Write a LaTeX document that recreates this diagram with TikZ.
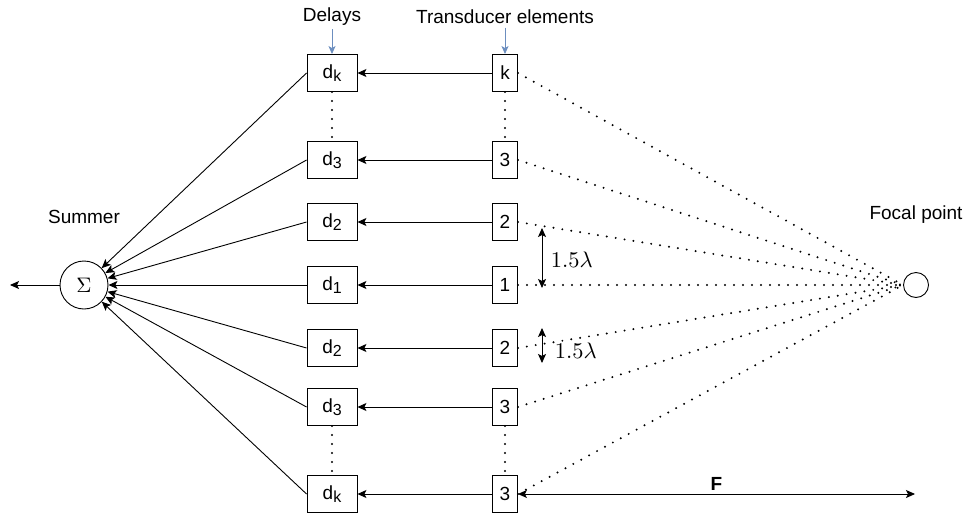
\documentclass[tikz,border=0pt]{standalone}
\usepackage{graphicx}
\usepackage{fontspec}
\setmainfont{Liberation Sans}
\usetikzlibrary{arrows.meta, positioning}

\definecolor{pointerblue}{HTML}{6C8EBF}

% lowered index for the delay names
\newcommand{\lowidx}[1]{\raisebox{-0.3ex}{\fontsize{16}{16}\selectfont #1}}
% math set at 10pt and scaled up
\newcommand{\bigmath}[2]{\scalebox{#1}{\fontsize{10}{12}\selectfont$#2$}}

\begin{document}
\begin{tikzpicture}[
    x=1pt, y=-1pt,
    every node/.style={font=\fontsize{19}{22}\selectfont},
    % Define block styles
    delay/.style={rectangle, draw, line width=0.9pt, minimum width=50pt, minimum height=37pt, inner sep=0pt},
    element/.style={rectangle, draw, line width=0.9pt, minimum width=25pt, minimum height=37pt, inner sep=0pt},
    summer/.style={circle, draw, line width=0.9pt, minimum size=48pt, inner sep=0pt},
    focus/.style={circle, draw, line width=0.9pt, minimum size=25pt, inner sep=0pt},
    % Define arrow styles
    arrow/.style={-{Stealth[length=9pt, width=8pt, inset=2pt]}, line width=0.9pt},
    twoway/.style={{Stealth[length=9pt, width=8pt, inset=2pt]}-{Stealth[length=9pt, width=8pt, inset=2pt]}, line width=0.9pt},
    pointer/.style={-{Stealth[length=8pt, width=7pt, inset=2pt]}, line width=0.9pt, pointerblue},
    beam/.style={line width=2.2pt, line cap=round, dash pattern=on 0pt off 9pt}
]

    \useasboundingbox (0,0) rectangle (966,514);

    % Delay blocks
    \node[delay] (d1) at (332,285) {d\lowidx{1}};
    \node[delay, above of=d1, node distance=63pt] (d2a) {d\lowidx{2}};
    \node[delay, above of=d2a, node distance=62pt] (d3a) {d\lowidx{3}};
    \node[delay, above of=d3a, node distance=87pt] (dka) {d\lowidx{k}};
    \node[delay, below of=d1, node distance=63pt] (d2b) {d\lowidx{2}};
    \node[delay, below of=d2b, node distance=59pt] (d3b) {d\lowidx{3}};
    \node[delay, below of=d3b, node distance=87pt] (dkb) {d\lowidx{k}};

    % Transducer elements
    \node[element, right of=dka, node distance=173pt] (tka) {k};
    \node[element, right of=d3a, node distance=173pt] (t3a) {3};
    \node[element, right of=d2a, node distance=173pt] (t2a) {2};
    \node[element, right of=d1, node distance=173pt] (t1) {1};
    \node[element, right of=d2b, node distance=173pt] (t2b) {2};
    \node[element, right of=d3b, node distance=173pt] (t3b) {3};
    \node[element, right of=dkb, node distance=173pt] (t3c) {3};

    % Summer and focal point
    \node[summer, left of=d1, node distance=248pt] (sum) {\bigmath{2.1}{\Sigma}};
    \node[focus, right of=t1, node distance=411pt] (focal) {};
    \coordinate[left of=sum, node distance=74pt] (out);
    \coordinate[right of=t3c, node distance=410pt] (fend);

    % Labels
    \node[above of=dka, node distance=56pt] (lbldelays) {Delays};
    \node[above of=tka, node distance=56pt] (lblelements) {Transducer elements};
    \node[above of=sum, node distance=68pt] (lblsummer) {Summer};
    \node[above of=focal, node distance=70pt] (lblfocal) {Focal point};

    \draw[pointer] (lbldelays) -- (dka);
    \draw[pointer] (lblelements) -- (tka);

    % Elements to delays
    \draw[arrow] (tka) -- (dka);
    \draw[arrow] (t3a) -- (d3a);
    \draw[arrow] (t2a) -- (d2a);
    \draw[arrow] (t1) -- (d1);
    \draw[arrow] (t2b) -- (d2b);
    \draw[arrow] (t3b) -- (d3b);
    \draw[arrow] (t3c) -- (dkb);

    % Delays to summer
    \draw[arrow] (dka.west) -- (sum);
    \draw[arrow] (d3a.west) -- (sum);
    \draw[arrow] (d2a.west) -- (sum);
    \draw[arrow] (d1.west) -- (sum);
    \draw[arrow] (d2b.west) -- (sum);
    \draw[arrow] (d3b.west) -- (sum);
    \draw[arrow] (dkb.west) -- (sum);
    \draw[arrow] (sum) -- (out);

    % Skipped rows
    \draw[beam] (dka.south) -- (d3a.north);
    \draw[beam] (tka.south) -- (t3a.north);
    \draw[beam] (d3b.south) -- (dkb.north);
    \draw[beam] (t3b.south) -- (t3c.north);

    % Paths to the focal point
    \draw[beam] (tka.east) -- (focal.west);
    \draw[beam] (t3a.east) -- (focal.west);
    \draw[beam] (t2a.east) -- (focal.west);
    \draw[beam] (t1.east) -- (focal.west);
    \draw[beam] (t2b.east) -- (focal.west);
    \draw[beam] (t3b.east) -- (focal.west);
    \draw[beam] (t3c.east) -- (focal.west);

    % Spacing marks
    \coordinate (gapa1) at (542,228);
    \coordinate (gapa2) at (542,288);
    \coordinate (gapb1) at (542,328);
    \coordinate (gapb2) at (542,363);
    \draw[twoway] (gapa1) -- node[right, xshift=5pt, yshift=-2pt] {\bigmath{2.25}{1.5\lambda}} (gapa2);
    \draw[twoway] (gapb1) -- node[right, xshift=9pt, yshift=-5pt] {\bigmath{2.25}{1.5\lambda}} (gapb2);

    % Focal distance
    \draw[twoway] (t3c.east) -- node[above, font=\fontsize{19}{22}\selectfont\bfseries] {F} (fend);

\end{tikzpicture}
\end{document}
